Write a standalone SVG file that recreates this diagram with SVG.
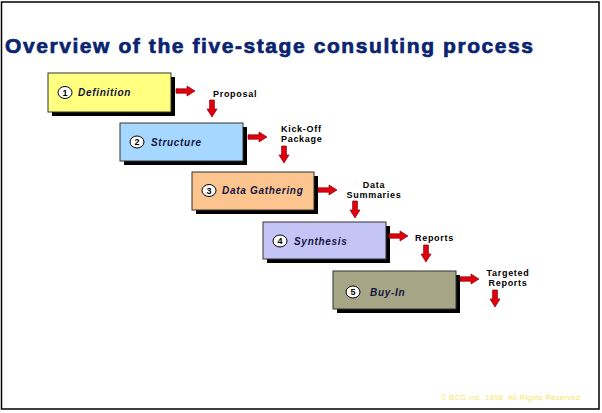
<svg xmlns="http://www.w3.org/2000/svg" xmlns:xlink="http://www.w3.org/1999/xlink" width="602" height="413" viewBox="0 0 602 413">
  <style>
    .title { font-family: "Liberation Sans", Arial, sans-serif; font-weight: bold; font-size: 21px; fill: #0A2470; stroke: #0A2470; stroke-width: 0.7px; }
    .shadow { fill: #000; }
    .box { stroke: #333; stroke-width: 1; }
    .num { fill: #fff; stroke: #000; stroke-width: 1; }
    .numtxt { font-family: "Liberation Sans", Arial, sans-serif; font-weight: bold; font-size: 9px; fill: #000; text-anchor: middle; }
    .name { font-family: "Liberation Sans", Arial, sans-serif; font-weight: bold; font-style: italic; font-size: 10px; fill: #141440; letter-spacing: 0.7px; }
    .out { font-family: "Liberation Sans", Arial, sans-serif; font-weight: bold; font-size: 9px; fill: #000; letter-spacing: 0.7px; }
    .arrow { fill: #E00010; stroke: #8A0000; stroke-width: 0.7; }
    .copy { font-family: "Liberation Sans", Arial, sans-serif; font-size: 7.5px; fill: #F4E860; }
  </style>
  <defs>
    <path id="arrR" class="arrow" d="M0,-2.2 H11 V-5 L19,0 L11,5 V2.2 H0 Z"/>
    <path id="arrD" class="arrow" d="M-2.4,0 V9 H-5 L0,17 L5,9 H2.4 V0 Z"/>
  </defs>

  <rect x="1.5" y="2" width="597.5" height="407" fill="#fff" stroke="#000" stroke-width="1.5"/>

  <text class="title" x="5" y="53" textLength="528" lengthAdjust="spacing">Overview of the five-stage consulting process</text>

  <g id="stage1">
    <rect class="shadow" x="52" y="77" width="123" height="39"/>
    <rect class="box" x="48" y="73" width="123" height="39" fill="#FFFF80"/>
    <ellipse class="num" cx="65" cy="92.5" rx="7" ry="6"/>
    <text class="numtxt" x="65" y="95.5">1</text>
    <text class="name" x="78" y="96">Definition</text>
  </g>

  <g id="stage2">
    <rect class="shadow" x="124" y="127" width="123" height="38"/>
    <rect class="box" x="120" y="123" width="123" height="38" fill="#A6D8FF"/>
    <ellipse class="num" cx="137" cy="142" rx="7" ry="6"/>
    <text class="numtxt" x="137" y="145">2</text>
    <text class="name" x="151" y="145.5">Structure</text>
  </g>

  <g id="stage3">
    <rect class="shadow" x="196" y="176" width="122" height="38"/>
    <rect class="box" x="192" y="172" width="122" height="38" fill="#FCC58F"/>
    <ellipse class="num" cx="209" cy="190.5" rx="7" ry="6"/>
    <text class="numtxt" x="209" y="193.5">3</text>
    <text class="name" x="222" y="194">Data Gathering</text>
  </g>

  <g id="stage4">
    <rect class="shadow" x="267" y="226" width="123" height="37"/>
    <rect class="box" x="263" y="222" width="123" height="37" fill="#C4C4F6"/>
    <ellipse class="num" cx="280" cy="241" rx="7" ry="6"/>
    <text class="numtxt" x="280" y="244">4</text>
    <text class="name" x="294" y="244.5">Synthesis</text>
  </g>

  <g id="stage5">
    <rect class="shadow" x="337" y="275" width="123" height="38"/>
    <rect class="box" x="333" y="271" width="123" height="38" fill="#A6A686"/>
    <ellipse class="num" cx="353" cy="292" rx="7" ry="6"/>
    <text class="numtxt" x="353" y="295">5</text>
    <text class="name" x="370" y="295.5">Buy-In</text>
  </g>

  <g id="connectors">
    <use xlink:href="#arrR" x="176" y="91"/>
    <use xlink:href="#arrD" x="212" y="100"/>
    <use xlink:href="#arrR" x="248" y="137"/>
    <use xlink:href="#arrD" x="284" y="146"/>
    <use xlink:href="#arrR" x="318" y="190"/>
    <use xlink:href="#arrD" x="355" y="201"/>
    <use xlink:href="#arrR" x="389" y="236"/>
    <use xlink:href="#arrD" x="426" y="245"/>
    <use xlink:href="#arrR" x="460" y="279"/>
    <use xlink:href="#arrD" x="495" y="290"/>
  </g>

  <g id="outputs">
    <text class="out" x="213" y="97">Proposal</text>
    <text class="out" x="281" y="132">Kick-Off</text>
    <text class="out" x="281" y="142">Package</text>
    <text class="out" x="374" y="188" text-anchor="middle">Data</text>
    <text class="out" x="374" y="198" text-anchor="middle">Summaries</text>
    <text class="out" x="415" y="241">Reports</text>
    <text class="out" x="508" y="276" text-anchor="middle">Targeted</text>
    <text class="out" x="508" y="286" text-anchor="middle">Reports</text>
  </g>

  <text class="copy" x="441" y="400" textLength="139" lengthAdjust="spacing">© BCG Inc. 1996, All Rights Reserved</text>
</svg>
